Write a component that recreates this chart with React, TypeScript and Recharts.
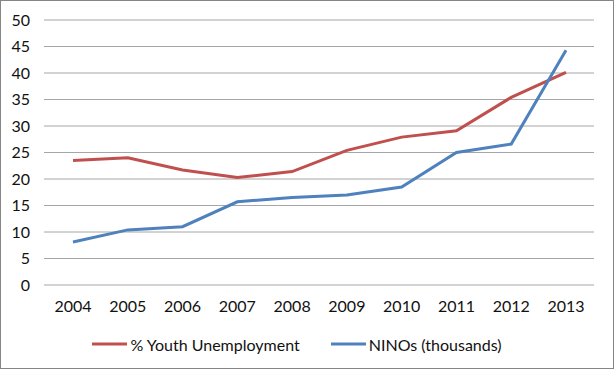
import { LineChart, Line, XAxis, YAxis, CartesianGrid, Legend } from "recharts";

const years = ["2004", "2005", "2006", "2007", "2008", "2009", "2010", "2011", "2012", "2013"];
const youthUnemployment = [23.5, 24.0, 21.7, 20.3, 21.4, 25.4, 27.9, 29.1, 35.4, 40.1];
const ninos = [8.1, 10.4, 11.0, 15.7, 16.5, 17.0, 18.5, 25.0, 26.6, 44.3];
const yTicks = [0, 5, 10, 15, 20, 25, 30, 35, 40, 45, 50];

const RED = "#C0504D";
const BLUE = "#4F81BD";
const FONT = "Lato, 'Open Sans', sans-serif";

const data = years.map((year, i) => ({
  year,
  youth: youthUnemployment[i],
  ninos: ninos[i],
}));

const renderLegend = (props: any) => {
  const { payload } = props;
  return (
    <div
      style={{
        display: "flex",
        justifyContent: "center",
        alignItems: "center",
        height: 40,
        gap: 31,
        fontFamily: FONT,
        fontSize: 16,
        color: "#111",
      }}
    >
      {payload.map((entry: any) => (
        <div key={entry.value} style={{ display: "flex", alignItems: "center" }}>
          <svg width={35} height={6} style={{ marginRight: 3 }}>
            <line x1={0} y1={3} x2={35} y2={3} stroke={entry.color} strokeWidth={3} />
          </svg>
          <span>{entry.value}</span>
        </div>
      ))}
    </div>
  );
};

export default function App() {
  return (
    <div style={{ position: "fixed", top: 0, left: 0, width: 614, height: 369, background: "#fff" }}>
      <LineChart width={614} height={369} data={data} margin={{ top: 20, right: 20, left: 0, bottom: 5 }}>
        <CartesianGrid vertical={false} stroke="#a6a6a6" strokeWidth={1} />
        <XAxis
          dataKey="year"
          axisLine={false}
          tickLine={false}
          height={39}
          tickMargin={10}
          padding={{ left: 29, right: 28 }}
          tick={{ fill: "#111", fontSize: 16, fontFamily: FONT }}
        />
        <YAxis
          domain={[0, 50]}
          ticks={yTicks}
          axisLine={false}
          tickLine={false}
          width={44}
          tickMargin={8}
          tick={{ fill: "#111", fontSize: 16, fontFamily: FONT }}
        />
        <Legend verticalAlign="bottom" height={40} content={renderLegend} />
        <Line
          type="linear"
          dataKey="youth"
          name="% Youth Unemployment"
          stroke={RED}
          strokeWidth={3}
          dot={false}
          isAnimationActive={false}
        />
        <Line
          type="linear"
          dataKey="ninos"
          name="NINOs (thousands)"
          stroke={BLUE}
          strokeWidth={3}
          dot={false}
          isAnimationActive={false}
        />
      </LineChart>
      <div
        style={{
          position: "absolute",
          inset: 0,
          border: "1px solid #868686",
          pointerEvents: "none",
        }}
      />
    </div>
  );
}
